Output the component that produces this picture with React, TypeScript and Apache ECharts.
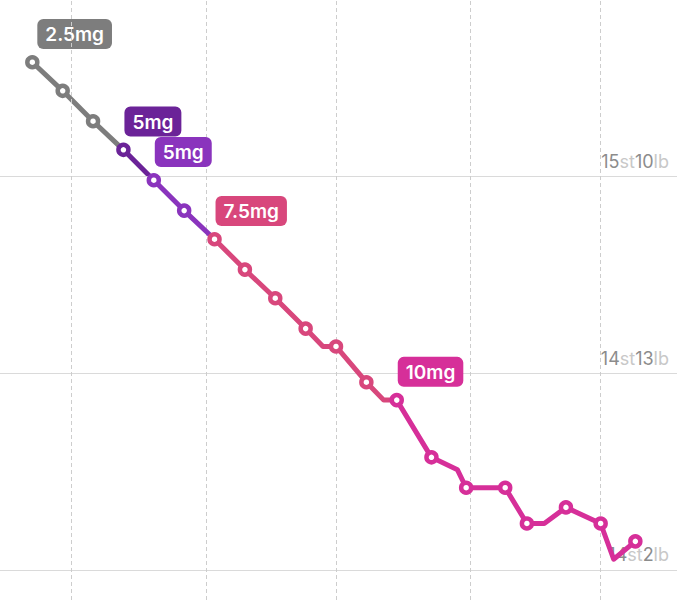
import { useEffect, useRef } from "react";
import * as echarts from "echarts";

// days since first injection, weight in lb
const dayOffsets = [0, 7, 14, 21, 28, 35, 42, 49, 56, 63, 67, 70, 77, 81, 84, 92, 98, 100, 109, 114, 118, 123, 131, 134, 139];
const weightsLb = [226.4, 224.8, 223.1, 221.5, 219.8, 218.1, 216.5, 214.8, 213.2, 211.5, 210.5, 210.5, 208.5, 207.5, 207.5, 204.3, 203.6, 202.6, 202.6, 200.6, 200.6, 201.5, 200.6, 198.6, 199.6];
// 0 = weigh-in without a dot
const showMarker = [1, 1, 1, 1, 1, 1, 1, 1, 1, 1, 0, 1, 1, 0, 1, 1, 0, 1, 1, 1, 0, 1, 1, 0, 1];

const doseLabels = ["2.5mg", "5mg", "5mg", "7.5mg", "10mg"];
const doseStartIndex = [0, 3, 4, 6, 14];
const doseColors = ["#7d7d7d", "#6b2398", "#8a34bd", "#d8477c", "#d62f99"];

const yTickValues = [198, 209, 220];
const monthStartDays = [9, 40, 70, 101, 131];

function stoneLabel(lb: number): string {
  const st = Math.floor(lb / 14);
  const rest = Math.round(lb - st * 14);
  return `{n|${st}}{u|st}{n|${rest}}{u|lb}`;
}

export default function App() {
  const ref = useRef<HTMLDivElement>(null);

  useEffect(() => {
    if (!ref.current) return;
    const chart = echarts.init(ref.current, undefined, { renderer: "svg" });

    const guideSeries = {
      type: "line" as const,
      data: [],
      z: 1,
      silent: true,
      markLine: {
        symbol: "none",
        silent: true,
        animation: false,
        data: [
          ...yTickValues.map((v) => ({
            yAxis: v,
            lineStyle: { color: "#dadada", type: "solid", width: 1 },
            label: {
              show: true,
              position: "insideEndTop",
              distance: [8, 6],
              formatter: stoneLabel(v),
              rich: {
                n: { color: "#8c8c8c", fontSize: 18, fontFamily: "Inter" },
                u: { color: "#c8c8c8", fontSize: 18, fontFamily: "Inter" },
              },
            },
          })),
          ...monthStartDays.map((d) => ({
            xAxis: d,
            lineStyle: { color: "#cdcdcd", type: [4, 3], width: 1 },
            label: { show: false },
          })),
        ],
      },
    };

    const doseSeries = doseStartIndex.map((start, k) => {
      const end = k + 1 < doseStartIndex.length ? doseStartIndex[k + 1] : dayOffsets.length - 1;
      const color = doseColors[k];
      const data = [];
      for (let i = start; i <= end; i++) {
        const isNextStart = k + 1 < doseStartIndex.length && i === end;
        const item: Record<string, unknown> = { value: [dayOffsets[i], weightsLb[i]] };
        if (!showMarker[i] || isNextStart) item.symbol = "none";
        if (i === start) {
          item.label = {
            show: true,
            position: "top",
            align: "left",
            distance: 6,
            offset: [k === 0 ? 5 : 1, 0],
            formatter: doseLabels[k],
            color: "#fff",
            fontSize: 19,
            fontWeight: 600,
            fontFamily: "Inter",
            backgroundColor: color,
            borderRadius: 6,
            padding: [6, 8, 5, 8],
          };
        }
        data.push(item);
      }
      return {
        type: "line" as const,
        name: doseLabels[k],
        data,
        z: 3 + k,
        symbol: "circle",
        symbolSize: 10,
        showAllSymbol: true,
        lineStyle: { color, width: 5, cap: "round", join: "round" },
        itemStyle: { color: "#fff", borderColor: color, borderWidth: 4.5 },
        label: { show: false },
        emphasis: { disabled: true },
      };
    });

    chart.setOption({
      animation: false,
      grid: { left: 0, right: 0, top: 0, bottom: 0 },
      xAxis: { type: "value", min: -7.45, max: 148.6, show: false },
      yAxis: { type: "value", min: 196.32, max: 229.88, show: false },
      series: [guideSeries, ...doseSeries],
    });

    return () => chart.dispose();
  }, []);

  return (
    <div
      ref={ref}
      style={{ position: "absolute", left: 0, top: 0, width: 677, height: 600, background: "#fff" }}
    />
  );
}
